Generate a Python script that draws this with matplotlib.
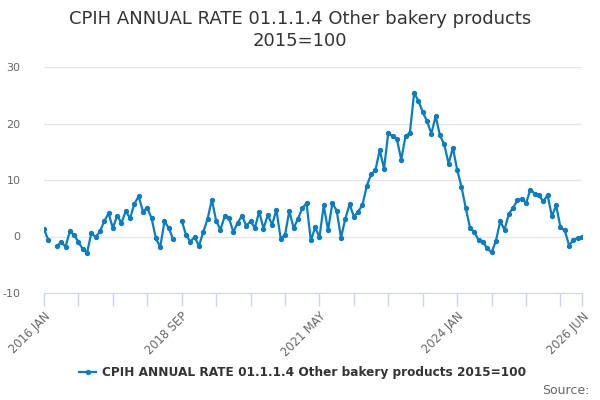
import matplotlib
matplotlib.use("Agg")
import matplotlib.pyplot as plt
import numpy as np
import pandas as pd

# monthly annual rate, 2016 JAN .. 2026 JUN (nan = no value)
values = [
    1.3, -0.6, np.nan, -1.7, -1.0, -1.8, 0.9, 0.3, -1.0, -2.2, -2.9, 0.6,
    -0.1, 0.9, 2.7, 4.1, 1.5, 3.7, 2.4, 4.5, 3.2, 5.8, 7.1, 4.4,
    5.1, 3.2, -0.3, -1.9, 2.7, 1.5, -0.5, np.nan, 2.8, 0.3, -0.9, -0.1,
    -1.7, 0.8, 3.1, 6.5, 2.8, 1.2, 3.6, 3.2, 0.8, 2.4, 3.7, 1.9,
    2.7, 1.5, 4.4, 1.4, 3.8, 2.1, 4.7, -0.4, 0.3, 4.5, 1.5, 3.1,
    5.0, 5.9, -0.7, 1.6, -0.1, 5.5, 1.1, 5.9, 4.6, -0.2, 3.1, 5.7,
    3.5, 4.4, 5.6, 9.0, 11.0, 11.7, 15.3, 12.0, 18.4, 17.7, 17.2, 13.6,
    17.8, 18.3, 25.4, 24.0, 22.0, 20.4, 18.2, 21.3, 17.9, 16.3, 12.9, 15.7,
    11.8, 8.8, 5.0, 1.5, 0.8, -0.7, -1.0, -2.1, -2.8, -0.8, 2.7, 1.2,
    4.0, 5.1, 6.4, 6.7, 5.9, 8.3, 7.6, 7.3, 6.2, 7.3, 3.6, 5.5,
    1.6, 1.1, -1.6, -0.6, -0.3, -0.1,
]
months = pd.period_range("2016-01", "2026-06", freq="M")
labels = [m.strftime("%Y %b").upper() for m in months]
series_name = "CPIH ANNUAL RATE 01.1.1.4 Other bakery products 2015=100"
title = "CPIH ANNUAL RATE 01.1.1.4 Other bakery products\n2015=100"
yticks = [-10, 0, 10, 20, 30]

x = np.arange(len(months))

fig = plt.figure(figsize=(6, 4), dpi=100)
ax = fig.add_axes([0.0733, 0.2675, 0.8967, 0.565])

ax.plot(x, values, color="#0a7cc1", lw=1.6, marker="o", ms=2.8,
        label=series_name, zorder=3)

ax.set_xlim(0, len(months) - 1)
ax.set_ylim(-10, 30)
ax.set_yticks(yticks)
ax.set_yticklabels([str(v) for v in yticks], color="#666666", fontsize=8)
ax.tick_params(axis="y", length=0, pad=17)
for v in yticks[1:]:
    ax.axhline(v, color="#e6e6e6", lw=1, zorder=1)

minor = list(range(0, len(months), 8)) + [len(months) - 1]
major = [0, 32, 64, 96, len(months) - 1]
ax.set_xticks(minor)
ax.set_xticklabels(["" if i not in major else labels[i] for i in minor],
                   rotation=45, ha="right", rotation_mode="anchor",
                   color="#666666", fontsize=8.3)
ax.tick_params(axis="x", length=9, color="#ccd6eb", width=1, pad=3)

for s in ["top", "right", "left"]:
    ax.spines[s].set_visible(False)
ax.spines["bottom"].set_color("#ccd6eb")

fig.suptitle(title, y=0.975, fontsize=13, color="#333333", linespacing=1.25)

fig.legend(loc="center", bbox_to_anchor=(0.505, 0.068), frameon=False,
           prop={"weight": "bold", "size": 8.7}, labelcolor="#333333",
           handlelength=1.4, handletextpad=0.5)
fig.text(0.983, 0.025, "Source:", ha="right", va="center",
         fontsize=9, color="#666666")

fig.savefig("out.png", dpi=100)
